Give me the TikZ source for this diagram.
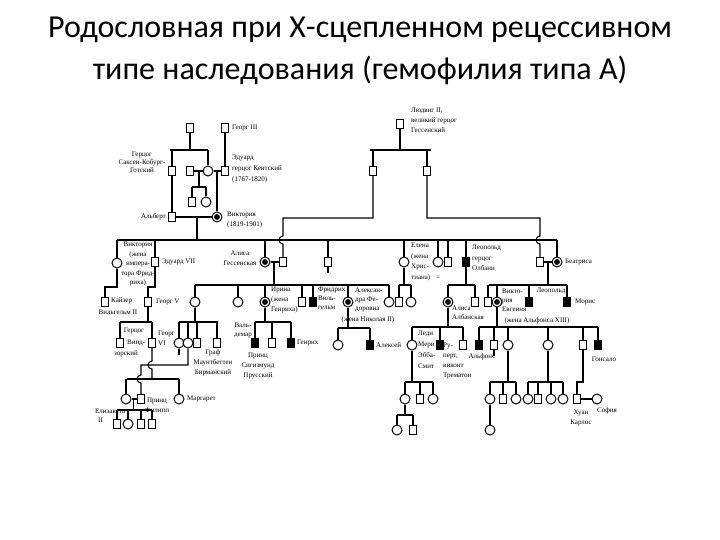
\documentclass[tikz,border=0pt]{standalone}
\usepackage{fontspec}
\setmainfont{Liberation Serif}
\newfontfamily\titlefont{Carlito}
\usetikzlibrary{backgrounds}
\begin{document}
\begin{tikzpicture}[x=1pt,y=-1pt,
  ml/.style={draw,rectangle,minimum width=7pt,minimum height=9pt,inner sep=0pt,fill=white,line width=1pt},
  am/.style={ml,fill=black},
  fl/.style={draw,circle,minimum size=10pt,inner sep=0pt,fill=white,line width=1pt},
  cf/.style={fl,path picture={\fill[black] (path picture bounding box.center) circle (2.9pt);}},
  lab/.style={font=\fontsize{7}{9}\selectfont,inner sep=0pt,align=left},
  labc/.style={lab,align=center},
  s8/.style={font=\fontsize{7}{8}\selectfont},
  s10/.style={font=\fontsize{7}{10}\selectfont},
  s11/.style={font=\fontsize{7}{11}\selectfont},
  ln/.style={line width=1.1pt},
  tl/.style={font=\titlefont\fontsize{32}{36}\selectfont,inner sep=0pt}
]
\useasboundingbox (0,0) rectangle (720,540);

% title
\node[tl] (title1) at (360,30) {Родословная при Х-сцепленном рецессивном};
\node[tl] (title2) at (360,70) {типе наследования (гемофилия типа А)};

% generation 0
\node[ml] (ua) at (190,128) {};
\node[ml] (g3) at (225,128) {};
\node[ml] (ludwig2) at (400,124) {};
% generation 1
\node[ml] (sk) at (172,171) {};
\node[ml] (hm) at (190,171) {};
\node[fl] (mv) at (208,171) {};
\node[ml] (ek) at (225,171) {};
\node[ml] (hc1) at (192,202) {};
\node[fl] (hc2) at (206,202) {};
\node[ml] (l1) at (373,171) {};
\node[ml] (l2) at (427,171) {};
% generation 2
\node[ml] (albert) at (172,217) {};
\node[cf] (victoria) at (217,217) {};
% children of Victoria
\node[fl] (vicd) at (117,263) {};
\node[ml] (ed7) at (155,262) {};
\node[cf] (alice) at (265,262) {};
\node[ml] (ludwig4) at (283,262) {};
\node[ml] (alfred) at (328,262) {};
\node[fl] (helena) at (404,262) {};
\node[fl] (louise) at (438,262) {};
\node[ml] (arthur) at (448,262) {};
\node[am] (leopold) at (466,262) {};
\node[ml] (henry) at (540,262) {};
\node[cf] (beatrice) at (557,262) {};
% generation 3
\node[ml] (wilhelm) at (105,302) {};
\node[ml] (georg5) at (148,302) {};
\node[fl] (vh) at (195,302) {};
\node[fl] (eliz) at (238,302) {};
\node[cf] (irene) at (265,302) {};
\node[ml] (ernst) at (302,302) {};
\node[am] (fried) at (313,302) {};
\node[cf] (alexandra) at (348,302) {};
\node[fl] (marie) at (389,302) {};
\node[ml] (hs) at (399,302) {};
\node[fl] (hd) at (411,302) {};
\node[cf] (aa) at (448,302) {};
\node[ml] (cl) at (475,302) {};
\node[ml] (alf13) at (488,302) {};
\node[cf] (ve) at (497,302) {};
\node[am] (leop2) at (529,302) {};
\node[am] (maurice) at (567,302) {};
% generation 4
\node[ml] (windsor) at (120,343) {};
\node[ml] (georg6) at (152,343) {};
\node[fl] (c1) at (179,343) {};
\node[fl] (c2) at (188,343) {};
\node[ml] (c3) at (197,343) {};
\node[ml] (mb) at (217,343) {};
\node[am] (wal) at (255,343) {};
\node[ml] (sig) at (272,343) {};
\node[am] (hen) at (291,343) {};
\node[fl] (tat) at (338,345) {};
\node[am] (alexei) at (370,345) {};
\node[fl] (mm) at (412,345) {};
\node[am] (rupert) at (440,345) {};
\node[ml] (maur2) at (463,345) {};
\node[am] (alfonso) at (479,345) {};
\node[ml] (jaime) at (494,345) {};
\node[fl] (beatriz) at (508,345) {};
\node[fl] (mc) at (548,345) {};
\node[ml] (juan) at (583,345) {};
\node[am] (gonzalo) at (598,345) {};
% generation 5
\node[fl] (eliz2) at (126,399) {};
\node[ml] (philip) at (141,399) {};
\node[fl] (margaret) at (179,399) {};
\node[ml] (k1) at (117,424) {};
\node[fl] (k2) at (128,424) {};
\node[ml] (k3) at (141,424) {};
\node[ml] (k4) at (152,424) {};
\node[fl] (mc1) at (405,399) {};
\node[ml] (mc2) at (420,399) {};
\node[fl] (mc3) at (433,399) {};
\node[fl] (gg1) at (397,430) {};
\node[ml] (gg2) at (413,430) {};
\node[fl] (bc1) at (490,399) {};
\node[ml] (bc2) at (503,399) {};
\node[fl] (bc3) at (516,399) {};
\node[fl] (gc) at (490,430) {};
\node[fl] (md1) at (528,399) {};
\node[ml] (md2) at (538,399) {};
\node[fl] (md3) at (551,399) {};
\node[fl] (md4) at (563,399) {};
\node[ml] (jc) at (577,399) {};
\node[fl] (sofia) at (597,399) {};

% labels
\node[lab,anchor=west] (tg3) at (232,128) {Георг III};
\node[labc,s8] (tsk) at (142,162) {Герцог\\Саксен-Кобург-\\Готский};
\node[lab,s11,anchor=west] (tek) at (232,169) {Эдуард\\герцог Кентский\\(1767-1820)};
\node[lab,anchor=east] (tal) at (166,217) {Альберт};
\node[lab,s10,anchor=west] (tvic) at (227,220) {Виктория\\(1819-1901)};
\node[lab,s10,anchor=west] (tl2) at (411,120) {Людвиг II,\\великий герцог\\Гессенский};
\node[labc,font=\fontsize{7}{9.5}\selectfont] (tvd) at (138,264) {Виктория\\(жена\\импера-\\тора Фрид-\\риха)};
\node[lab,anchor=west] (ted7) at (162,262) {Эдуард VII};
\node[labc,s10] (tali) at (240,258) {Алиса\\Гессенская};
\node[lab,font=\fontsize{7}{10.5}\selectfont,anchor=west] (thel) at (411,262) {Елена\\(жена\\Хрис-\\тиана)};
\node[lab] (teq) at (438,278) {=};
\node[lab,font=\fontsize{7}{10.5}\selectfont,anchor=west] (tleo) at (472,258) {Леопольд\\герцог\\Олбани};
\node[lab,anchor=west] (tbea) at (565,262) {Беатриса};
\node[lab,anchor=west] (tkai) at (111,301) {Кайзер};
\node[labc] (twil) at (118,312) {Вильгельм II};
\node[lab,anchor=west] (tg5) at (156,302) {Георг V};
\node[lab,s10,anchor=west] (tir) at (271,300) {Ирина\\(жена\\Генриха)};
\node[lab,anchor=west] (tfr) at (318,298) {Фридрих\\Виль-\\гельм};
\node[lab,anchor=west] (tale) at (355,300) {Алексан-\\дра Фе-\\доровна};
\node[labc] (tnik) at (368,320) {(жена Николая II)};
\node[lab,anchor=west] (taa) at (452,313) {Алиса\\Албанская};
\node[lab,anchor=west] (tve) at (502,300) {Викто-\\рия\\Евгения};
\node[labc] (talx) at (537,321) {(жена Альфонса XIII)};
\node[labc] (tleo2) at (551,291) {Леопольд};
\node[lab,anchor=west] (tmor) at (575,302) {Морис};
\node[lab] (tgerz) at (134,331) {Герцог};
\node[lab,anchor=west] (twin) at (127,343) {Винд-};
\node[labc] (tzor) at (126,354) {зорский};
\node[lab,s10,anchor=west] (tg6) at (158,338) {Георг\\VI};
\node[labc,s10] (tmb) at (213,363) {Граф\\Маунтбеттен\\Бирманский};
\node[labc] (twal) at (243,330) {Валь-\\демар};
\node[labc,s10] (tsig) at (258,366) {Принц\\Сигизмунд\\Прусский};
\node[lab,anchor=west] (then) at (297,343) {Генрих};
\node[lab,anchor=west] (talex) at (376,345) {Алексей};
\node[lab,s11,anchor=west] (tmm) at (418,350) {Леди\\Мери\\Эбба-\\Смит};
\node[lab,s10,anchor=west] (trup) at (443,361) {Ру-\\перт,\\виконт\\Трематон};
\node[labc] (talf) at (482,357) {Альфонс};
\node[labc] (tgon) at (604,359) {Гонсало};
\node[labc,s10] (tjc) at (581,418) {Хуан\\Карлос};
\node[lab,anchor=west] (tsof) at (597,411) {София};
\node[lab,anchor=west] (tel2) at (95,416) {Елизавета\\\hspace*{3pt}II};
\node[labc,s10] (tph) at (157,405) {Принц\\Филипп};
\node[lab,anchor=west] (tmar) at (187,399) {Маргарет};

\begin{pgfonlayer}{background}
\fill[white] (0,0) rectangle (720,540);
\begin{scope}[ln]
% top-left
\draw (ua.south) -- (190,150);
\draw (170,150) -- (208,150);
\draw (sk.north) -- (sk |- 0,150);
\draw (mv.north) -- (mv |- 0,150);
\draw (hm.east) -- (mv.west);
\draw (mv.east) -- (ek.west);
\draw (199,171) -- (199,187);
\draw (192,187) -- (206,187);
\draw (hc1.north) -- (hc1 |- 0,187);
\draw (hc2.north) -- (hc2 |- 0,187);
\draw (g3.south) -- (ek.north);
\draw (217,171) -- (victoria.north);
\draw (sk.south) -- (albert.north);
\draw (albert.east) -- (victoria.west);
\draw (197,217) -- (197,240);
% main sibship
\draw (117,240) -- (557,240);
\foreach \n in {vicd,ed7,alice,alfred,helena,louise,arthur,leopold,beatrice}
  \draw (\n.north) -- (\n |- 0,240);
\draw (alfred.south) -- ++(0,6);
% Ludwig II
\draw (ludwig2.south) -- (400,150);
\draw (370,150) -- (431,150);
\draw (l1.north) -- (l1 |- 0,150);
\draw (l2.north) -- (l2 |- 0,150);
\draw (l1.south) -- (373,218) -- (283,218) -- (283,236) arc[start angle=90,end angle=270,radius=4pt] -- (ludwig4.north);
\draw (l2.south) -- (427,218) -- (540,218) -- (540,236) arc[start angle=90,end angle=270,radius=4pt] -- (henry.north);
% Alice of Hesse
\draw (alice.east) -- (ludwig4.west);
\draw (274,262) -- (274,285);
\draw (195,285) -- (389,285);
\foreach \n in {vh,eliz,irene,ernst,fried,alexandra,marie}
  \draw (\n.north) -- (\n |- 0,285);
% Beatrice
\draw (henry.east) -- (beatrice.west);
\draw (548,262) -- (548,285);
\draw (489,285) -- (567,285);
\draw (alf13.north) -- (alf13 |- 0,285);
\draw (497,285) -- (497,327);
\draw (leop2.north) -- (leop2 |- 0,285);
\draw (maurice.north) -- (maurice |- 0,285);
\draw (alf13.east) -- (ve.west);
% Helena
\draw (helena.south) -- (404,285);
\draw (399,285) -- (411,285);
\draw (hs.north) -- (hs |- 0,285);
\draw (hd.north) -- (hd |- 0,285);
% Leopold
\draw (leopold.south) -- (466,285);
\draw (448,285) -- (475,285);
\draw (aa.north) -- (aa |- 0,285);
\draw (cl.north) -- (cl |- 0,285);
% Victoria daughter, Edward VII
\draw (vicd.south) -- (117,287) -- (105,287) -- (wilhelm.north);
\draw (ed7.south) -- (155,287) -- (148,287) -- (georg5.north);
% Georg V
\draw (georg5.south) -- (148,322);
\draw (120,322) -- (152,322);
\draw (windsor.north) -- (windsor |- 0,322);
\draw (georg6.north) -- (georg6 |- 0,322);
% Victoria of Hesse
\draw (vh.south) -- (195,322);
\draw (179,322) -- (218,322);
\foreach \n in {c1,c2,c3,mb}
  \draw (\n.north) -- (\n |- 0,322);
\draw (c1.south) -- ++(0,6);
% Irene
\draw (irene.south) -- (265,322);
\draw (255,322) -- (291,322);
\foreach \n in {wal,sig,hen}
  \draw (\n.north) -- (\n |- 0,322);
% Alexandra
\draw (alexandra.south) -- (348,328);
\draw (338,328) -- (370,328);
\draw (tat.north) -- (tat |- 0,328);
\draw (alexei.north) -- (alexei |- 0,328);
% Alice of Albany
\draw (aa.south) -- (448,327);
\draw (412,327) -- (463,327);
\foreach \n in {mm,rupert,maur2}
  \draw (\n.north) -- (\n |- 0,327);
% Victoria Eugenie
\draw (479,327) -- (598,327);
\foreach \n in {alfonso,jaime,beatriz,mc,juan,gonzalo}
  \draw (\n.north) -- (\n |- 0,327);
\draw (jaime.south) -- ++(0,6);
% Georg VI
\draw (georg6.south) -- (152,361) arc[start angle=90,end angle=270,radius=4pt] -- (152,379);
\draw (127,379) -- (179,379);
\draw (eliz2.north) -- (eliz2 |- 0,379);
\draw (margaret.north) -- (margaret |- 0,379);
\draw (c2.south) -- (188,365) -- (141,365) -- (141,375) arc[start angle=90,end angle=270,radius=4pt] -- (philip.north);
\draw (eliz2.east) -- (philip.west);
\draw (133.5,399) -- (133.5,410);
\draw (117,410) -- (152,410);
\foreach \n in {k1,k2,k3,k4}
  \draw (\n.north) -- (\n |- 0,410);
% Beatriz
\draw (beatriz.south) -- (508,382);
\draw (490,382) -- (516,382);
\foreach \n in {bc1,bc2,bc3}
  \draw (\n.north) -- (\n |- 0,382);
\draw (bc1.south) -- (gc.north);
% Maria Cristina
\draw (mc.south) -- (548,382);
\draw (528,382) -- (563,382);
\foreach \n in {md1,md2,md3,md4}
  \draw (\n.north) -- (\n |- 0,382);
% Juan
\draw (juan.south) -- (583,382) -- (577,382) -- (jc.north);
\draw (jc.east) -- (sofia.west);
% Mary May
\draw (mm.south) -- (412,382);
\draw (405,382) -- (433,382);
\foreach \n in {mc1,mc2,mc3}
  \draw (\n.north) -- (\n |- 0,382);
\draw (mc1.south) -- (405,415);
\draw (397,415) -- (413,415);
\draw (gg1.north) -- (gg1 |- 0,415);
\draw (gg2.north) -- (gg2 |- 0,415);
\end{scope}
\end{pgfonlayer}
\end{tikzpicture}
\end{document}
